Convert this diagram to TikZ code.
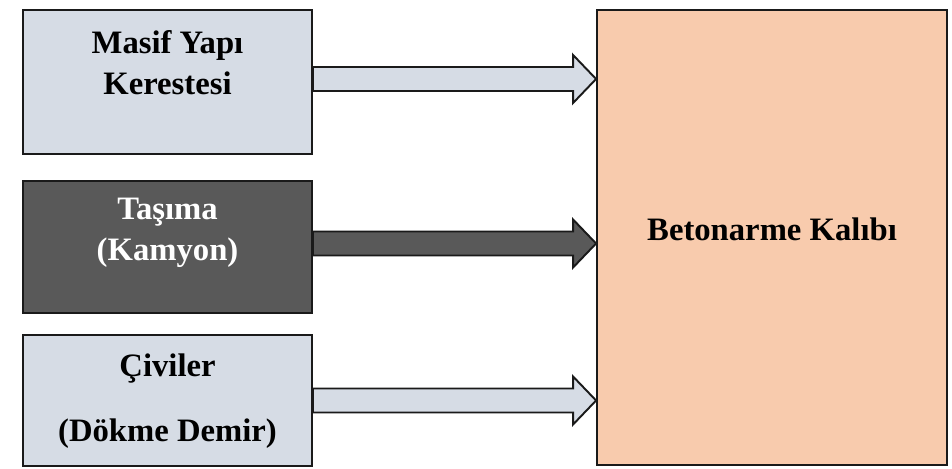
\documentclass[tikz,border=0pt]{standalone}
\usepackage{fontspec}
\setmainfont{Liberation Serif}
\usetikzlibrary{calc}

\definecolor{boxgray}{HTML}{D6DCE5}
\definecolor{boxdark}{HTML}{595959}
\definecolor{boxorange}{HTML}{F8CBAD}
\definecolor{edgeblack}{HTML}{1A1A1A}

% block arrow from the east side of #2 to the west side of #3, filled with #4,
% moved #1 px up or down
\newcommand{\blockarrow}[4][0]{%
  \draw[arrowbody, fill=#4]
    ($(#2.east)+(0,#1-12)$) -- ($(#2.east -| #3.west)+(-23,#1-12)$)
    -- ($(#2.east -| #3.west)+(-23,#1-24)$) -- ($(#2.east -| #3.west)+(0,#1)$)
    -- ($(#2.east -| #3.west)+(-23,#1+24)$) -- ($(#2.east -| #3.west)+(-23,#1+12)$)
    -- ($(#2.east)+(0,#1+12)$) -- cycle;}

\begin{document}
\begin{tikzpicture}[x=0.02cm, y=-0.02cm,
    box/.style={rectangle, draw=edgeblack, line width=1.1pt, inner sep=0pt},
    srcbox/.style={box, minimum width=5.78cm},
    boxtext/.style={align=center, font=\fontsize{18.6pt}{23.2pt}\selectfont\bfseries},
    arrowbody/.style={draw=edgeblack, line width=1.1pt, line join=miter}]
        \useasboundingbox (0,0) rectangle (952,469);

        %draw nodes by coordinates
        \node[srcbox, fill=boxgray, minimum height=2.88cm] (masif) at (167.5,82) {};
        \node[srcbox, fill=boxdark, minimum height=2.64cm] (tasima) at (167.5,247) {};
        \node[srcbox, fill=boxgray, minimum height=2.62cm] (civiler) at (167.5,400.5) {};
        \node[box, fill=boxorange, minimum width=7cm, minimum height=9.1cm] (kalip) at (772,237.5) {};

        % texts
        \node[boxtext] (masiftext) at (167.5,63) {Masif Yapı\\Kerestesi};
        \node[boxtext, text=white] (tasimatext) at (167.5,233) {Taşıma\\(Kamyon)};
        \node[boxtext] (civilertext) at (167.5,401) {Çiviler\\[13.6pt](Dökme Demir)};
        \node[boxtext] (kaliptext) at (772,229) {Betonarme Kalıbı};

        % Draw arrows (links)
        \blockarrow[-3]{masif}{kalip}{boxgray}
        \blockarrow[-3.5]{tasima}{kalip}{boxdark}
        \blockarrow{civiler}{kalip}{boxgray}
    \end{tikzpicture}
\end{document}
